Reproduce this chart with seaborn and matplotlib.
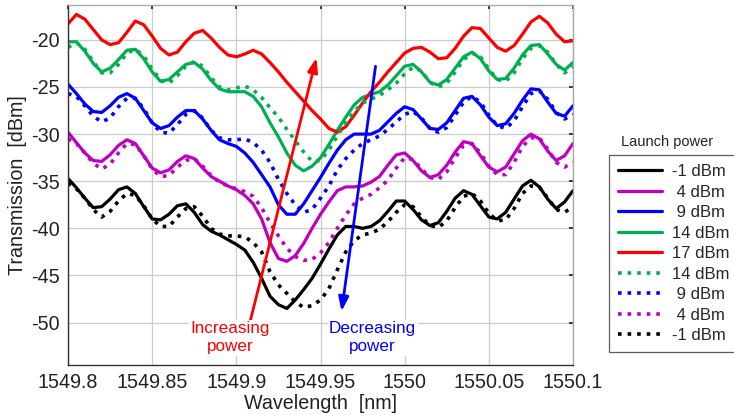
import numpy as np
import pandas as pd
import matplotlib
matplotlib.use("Agg")
import matplotlib.pyplot as plt
import seaborn as sns

wavelength = [round(1549.800 + 0.005 * i, 3) for i in range(61)]

red_17_up = [-18.3, -17.3, -17.8, -18.9, -20.0, -20.5, -20.3, -19.2, -18.0, -18.4,
             -19.6, -20.9, -21.6, -21.3, -20.2, -19.3, -19.0, -19.8, -20.8, -21.6,
             -21.8, -21.5, -21.1, -21.5, -22.4, -23.4, -24.5, -25.5, -26.5, -27.5,
             -28.4, -29.4, -29.8, -29.2, -28.0, -26.7, -25.5, -24.5, -23.4, -22.4,
             -21.4, -20.9, -20.8, -21.3, -22.0, -21.9, -20.9, -19.6, -18.7, -18.8,
             -19.8, -20.8, -21.2, -20.6, -19.4, -18.1, -17.5, -18.2, -19.4, -20.2, -20.1]

green_14_up = [-20.2, -20.2, -21.2, -22.5, -23.4, -23.0, -22.1, -21.1, -21.0, -22.0,
               -23.4, -24.4, -24.2, -23.4, -22.6, -22.4, -23.1, -24.3, -25.2, -25.5,
               -25.5, -25.5, -26.0, -27.1, -28.8, -30.3, -32.0, -33.3, -33.9, -33.4,
               -32.5, -31.1, -29.6, -28.2, -26.9, -26.1, -25.8, -25.5, -24.8, -23.8,
               -22.8, -22.6, -23.4, -24.5, -24.8, -24.2, -23.0, -21.8, -21.3, -22.0,
               -23.3, -24.2, -24.1, -23.0, -21.6, -20.6, -20.5, -21.5, -22.6, -23.2, -22.4]

green_14_down = [-20.8, -20.3, -21.0, -22.3, -23.5, -23.5, -22.6, -21.4, -21.0, -21.7,
                 -23.1, -24.3, -24.6, -23.8, -22.8, -22.3, -22.8, -24.0, -25.0, -25.3,
                 -25.1, -24.9, -25.3, -26.1, -27.2, -28.2, -29.5, -30.7, -31.9, -32.9,
                 -32.8, -31.7, -30.2, -28.8, -27.6, -26.7, -26.3, -25.9, -25.3, -24.6,
                 -23.6, -22.9, -23.3, -24.5, -25.0, -24.6, -23.4, -22.1, -21.4, -21.8,
                 -23.1, -24.2, -24.4, -23.5, -22.0, -20.9, -20.6, -21.3, -22.6, -23.5, -22.8]

blue_9_up = [-24.7, -25.7, -26.8, -27.6, -27.7, -27.0, -26.1, -25.7, -26.2, -27.5,
             -28.8, -29.4, -29.1, -28.2, -27.5, -27.5, -28.4, -29.6, -30.6, -31.0,
             -31.3, -32.0, -33.0, -34.3, -35.6, -37.5, -38.5, -38.5, -37.4, -36.0,
             -34.6, -33.1, -31.7, -30.6, -30.0, -30.0, -30.0, -29.6, -28.7, -27.8,
             -27.1, -27.4, -28.4, -29.4, -29.5, -28.8, -27.5, -26.2, -26.0, -26.9,
             -28.2, -29.1, -28.9, -27.8, -26.4, -25.2, -25.3, -26.6, -27.8, -28.1, -27.0]

blue_9_down = [-25.7, -26.0, -27.0, -28.1, -28.7, -28.3, -27.1, -26.2, -26.2, -27.3,
               -28.8, -29.8, -29.9, -29.0, -27.9, -27.5, -28.3, -29.6, -30.4, -30.6,
               -30.6, -30.5, -30.9, -31.7, -33.0, -34.8, -36.3, -37.5, -38.3, -38.0,
               -36.8, -35.5, -33.8, -32.6, -31.7, -31.0, -30.6, -30.2, -29.5, -28.7,
               -27.9, -27.6, -28.3, -29.4, -29.8, -29.3, -28.0, -26.6, -26.0, -26.6,
               -28.0, -29.1, -29.4, -28.6, -27.1, -25.7, -25.4, -26.3, -27.7, -28.4, -27.9]

magenta_4_up = [-29.8, -30.9, -32.0, -32.8, -32.9, -32.2, -31.2, -30.6, -31.0, -32.3,
                -33.6, -34.1, -33.8, -32.9, -32.3, -32.6, -33.6, -34.5, -35.0, -35.5,
                -35.9, -36.5, -37.4, -39.0, -41.5, -43.2, -43.5, -42.9, -41.6, -40.0,
                -38.5, -37.2, -36.0, -35.6, -35.6, -35.5, -35.1, -34.5, -33.3, -32.2,
                -32.0, -32.8, -33.9, -34.6, -34.3, -33.3, -31.9, -30.8, -31.0, -32.3,
                -33.5, -34.0, -33.5, -32.1, -30.7, -30.0, -30.5, -31.8, -32.8, -32.3, -31.0]

magenta_4_down = [-30.5, -31.0, -32.0, -33.1, -33.7, -33.2, -32.0, -31.0, -31.1, -32.3,
                  -33.7, -34.5, -34.4, -33.5, -32.8, -32.6, -33.4, -34.4, -35.1, -35.5,
                  -35.8, -36.1, -36.6, -37.8, -39.4, -40.8, -42.1, -43.0, -43.4, -43.3,
                  -42.6, -41.5, -40.0, -38.6, -37.4, -36.8, -36.4, -35.7, -34.9, -33.6,
                  -32.5, -32.7, -33.7, -34.6, -34.8, -34.0, -32.5, -31.2, -31.0, -32.0,
                  -33.4, -34.3, -34.3, -33.0, -31.3, -30.4, -30.4, -31.6, -33.0, -33.5, -33.0]

black_m1_up = [-34.7, -35.7, -36.8, -37.8, -37.7, -36.9, -35.9, -35.6, -36.3, -37.7,
               -39.0, -39.1, -38.5, -37.6, -37.4, -38.3, -39.6, -40.3, -40.7, -41.2,
               -41.7, -42.3, -43.6, -45.3, -47.2, -48.1, -48.5, -47.6, -46.5, -45.3,
               -43.8, -42.2, -40.7, -39.8, -39.8, -40.0, -39.8, -39.2, -38.2, -37.1,
               -37.1, -38.0, -39.1, -39.7, -39.4, -38.2, -36.8, -36.0, -36.4, -37.6,
               -38.8, -39.0, -38.3, -36.9, -35.5, -34.9, -35.6, -36.9, -37.9, -37.2, -36.0]

black_m1_down = [-35.2, -35.8, -36.8, -38.0, -38.8, -38.2, -37.1, -36.3, -36.5, -37.6,
                 -39.0, -39.8, -39.8, -38.8, -37.9, -37.7, -38.7, -40.0, -40.6, -40.8,
                 -40.8, -40.9, -41.5, -42.5, -44.6, -46.0, -46.9, -47.8, -48.4, -48.2,
                 -47.6, -46.4, -44.4, -42.5, -41.3, -40.7, -40.5, -40.1, -39.3, -38.3,
                 -37.5, -37.7, -38.8, -39.7, -39.9, -39.2, -37.8, -36.6, -36.3, -37.1,
                 -38.4, -39.2, -39.1, -37.9, -36.3, -35.5, -35.6, -36.8, -38.0, -38.3, -37.7]

series_labels = ["-1 dBm", " 4 dBm", " 9 dBm", "14 dBm", "17 dBm",
                 "14 dBm", " 9 dBm", " 4 dBm", "-1 dBm"]
series_data = [black_m1_up, magenta_4_up, blue_9_up, green_14_up, red_17_up,
               green_14_down, blue_9_down, magenta_4_down, black_m1_down]
series_colors = ["#000000", "#C000C0", "#0000FF", "#00B050", "#FF0000",
                 "#00B050", "#0000FF", "#C000C0", "#000000"]
series_styles = ["-", "-", "-", "-", "-", ":", ":", ":", ":"]

sns.set_theme(style="white")
plt.rcParams['font.family'] = ['Liberation Sans', 'DejaVu Sans']

fig = plt.figure(figsize=(7.34, 4.19), dpi=100)
ax = fig.add_axes([68 / 734, 1 - 365 / 419, (573 - 68) / 734, 360 / 419])

for lab, ys, col, ls in zip(series_labels, series_data, series_colors, series_styles):
    df = pd.DataFrame({"wl": wavelength, "T": ys})
    sns.lineplot(data=df, x="wl", y="T", ax=ax, color=col, linestyle=ls,
                 linewidth=2.3 if ls == "-" else 2.6, label=lab, legend=False,
                 solid_joinstyle="round", dash_joinstyle="round")

ax.set_xlim(1549.8, 1550.1)
ax.set_ylim(-54.5, -16.3)
xt = [1549.8, 1549.85, 1549.9, 1549.95, 1550.0, 1550.05, 1550.1]
ax.set_xticks(xt)
ax.set_xticklabels(["1549.8", "1549.85", "1549.9", "1549.95", "1550", "1550.05", "1550.1"])
ax.set_yticks([-50, -45, -40, -35, -30, -25, -20])
ax.set_yticklabels(["-50", "-45", "-40", "-35", "-30", "-25", "-20"])
ax.tick_params(axis="both", labelsize=14.2, colors="#222222", direction="in",
               length=3, top=True, right=True, pad=6)
ax.grid(True, color="#cccccc", linewidth=0.9)
ax.set_axisbelow(True)
for s in ["left", "bottom"]:
    ax.spines[s].set_color("#333333")
    ax.spines[s].set_linewidth(1.0)
for s in ["top", "right"]:
    ax.spines[s].set_color("#aaaaaa")
    ax.spines[s].set_linewidth(1.0)

ax.set_xlabel("Wavelength  [nm]", fontsize=14.2, color="#222222", labelpad=1)
ax.set_ylabel("Transmission  [dBm]", fontsize=14.2, color="#222222", labelpad=3)

# arrows and annotations
ax.annotate("", xy=(1549.9476, -21.9), xytext=(1549.9083, -49.8),
            arrowprops=dict(arrowstyle="-|>,head_length=0.7,head_width=0.25",
                            color="#FF0000", lw=2.0, shrinkA=0, shrinkB=0))
ax.annotate("", xy=(1549.9625, -48.8), xytext=(1549.9827, -22.8),
            arrowprops=dict(arrowstyle="-|>,head_length=0.7,head_width=0.25",
                            color="#0000FF", lw=2.0, shrinkA=0, shrinkB=0))
ax.text(1549.8964, -51.6, "Increasing\npower", color="#FF0000", fontsize=12.3,
        ha="center", va="center", linespacing=1.25,
        bbox=dict(facecolor="white", edgecolor="none", pad=1))
ax.text(1549.981, -51.6, "Decreasing\npower", color="#0000FF", fontsize=12.3,
        ha="center", va="center", linespacing=1.25,
        bbox=dict(facecolor="white", edgecolor="none", pad=1))

handles, labels = ax.get_legend_handles_labels()
leg = fig.legend(handles, labels, loc="upper left",
                 bbox_to_anchor=(609 / 734, 1 - 155 / 419),
                 fontsize=12, frameon=True, fancybox=False, edgecolor="#333333",
                 handlelength=2.6, handletextpad=0.6, labelspacing=0.33,
                 borderpad=0.55, borderaxespad=0)
leg.get_frame().set_linewidth(0.9)
fig.text(667 / 734, 1 - 142 / 419, "Launch power", fontsize=10.5, ha="center",
         va="center", color="#222222")

fig.savefig("out.png", dpi=100)
